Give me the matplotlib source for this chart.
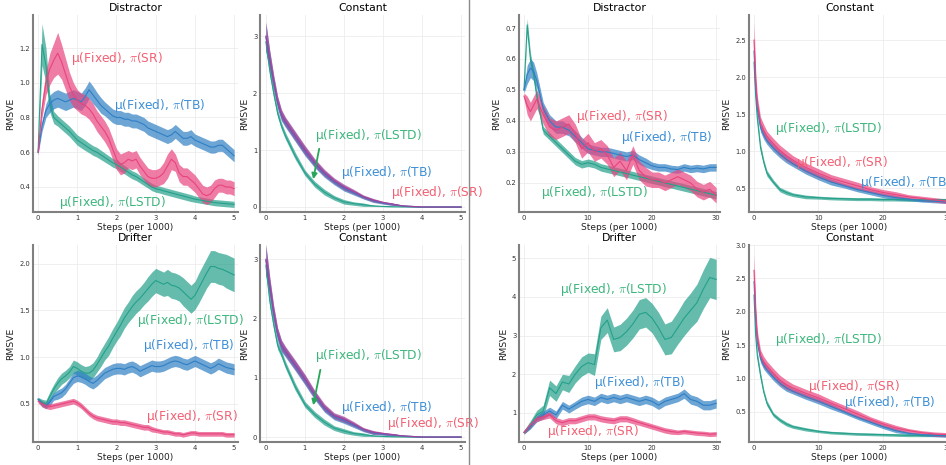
import numpy as np
import matplotlib
matplotlib.use("Agg")
from matplotlib import pyplot as plt

plt.rcParams['mathtext.fontset'] = 'cm'

# ---- colours ----
C_LSTD = '#24a08a'
C_TB = '#2f7fc4'
C_SR = '#e8447e'
C_MIX = '#a8409a'   # SR band sitting on the TB band in the 5k "Constant" runs
T_LSTD = '#3cb67c'
T_TB = '#3d8fd6'
T_SR = '#f25f72'

# ---- panel 1: Distractor, 5k steps ----
x_short = np.round(np.arange(0, 5.01, 0.1), 2)
d1_lstd = [0.60, 1.22, 1.10, 0.88, 0.80, 0.78, 0.76, 0.74, 0.72, 0.695,
           0.67, 0.655, 0.64, 0.625, 0.61, 0.60, 0.585, 0.57, 0.555, 0.54,
           0.53, 0.515, 0.50, 0.485, 0.47, 0.46, 0.445, 0.43, 0.415, 0.40,
           0.39, 0.385, 0.378, 0.372, 0.366, 0.36, 0.354, 0.348, 0.342, 0.336,
           0.33, 0.326, 0.322, 0.318, 0.314, 0.31, 0.308, 0.306, 0.304, 0.302,
           0.30]
d1_lstd_band = [0.01, 0.12, 0.10, 0.05, 0.035, 0.03, 0.03, 0.03, 0.03, 0.03,
                0.03, 0.03, 0.03, 0.028, 0.028, 0.028, 0.027, 0.026, 0.025, 0.025,
                0.025, 0.025, 0.024, 0.024, 0.023, 0.023, 0.022, 0.022, 0.021, 0.021,
                0.02, 0.02, 0.02, 0.02, 0.02, 0.02, 0.02, 0.02, 0.02, 0.02,
                0.018, 0.018, 0.018, 0.018, 0.018, 0.018, 0.018, 0.018, 0.018, 0.018,
                0.018]
d1_sr = [0.60, 0.85, 1.00, 1.08, 1.13, 1.17, 1.12, 1.05, 0.98, 0.93,
         0.90, 0.88, 0.87, 0.85, 0.82, 0.78, 0.75, 0.72, 0.68, 0.62,
         0.56, 0.53, 0.54, 0.56, 0.55, 0.56, 0.52, 0.49, 0.46, 0.45,
         0.45, 0.46, 0.48, 0.52, 0.56, 0.54, 0.48, 0.46, 0.46, 0.44,
         0.42, 0.39, 0.36, 0.35, 0.36, 0.39, 0.41, 0.41, 0.40, 0.40,
         0.39]
d1_sr_band = [0.02, 0.05, 0.07, 0.09, 0.10, 0.12, 0.10, 0.09, 0.08, 0.07,
              0.06, 0.06, 0.06, 0.06, 0.06, 0.06, 0.06, 0.06, 0.06, 0.06,
              0.06, 0.06, 0.06, 0.05, 0.05, 0.05, 0.05, 0.05, 0.05, 0.05,
              0.05, 0.05, 0.06, 0.07, 0.06, 0.05, 0.05, 0.05, 0.05, 0.05,
              0.05, 0.05, 0.05, 0.05, 0.05, 0.05, 0.04, 0.04, 0.04, 0.04,
              0.04]
d1_tb = [0.60, 0.75, 0.84, 0.88, 0.90, 0.91, 0.90, 0.89, 0.90, 0.91,
         0.90, 0.89, 0.92, 0.96, 0.93, 0.90, 0.87, 0.85, 0.83, 0.81,
         0.80, 0.80, 0.79, 0.79, 0.78, 0.78, 0.77, 0.76, 0.74, 0.73,
         0.72, 0.71, 0.70, 0.69, 0.70, 0.72, 0.70, 0.68, 0.68, 0.69,
         0.67, 0.66, 0.65, 0.64, 0.63, 0.63, 0.64, 0.64, 0.62, 0.60,
         0.58]
d1_tb_band = [0.01, 0.03, 0.04, 0.05, 0.05, 0.05, 0.05, 0.05, 0.05, 0.05,
              0.05, 0.05, 0.05, 0.05, 0.05, 0.045, 0.045, 0.04, 0.04, 0.04,
              0.04, 0.04, 0.04, 0.04, 0.04, 0.04, 0.04, 0.04, 0.04, 0.04,
              0.04, 0.04, 0.04, 0.04, 0.04, 0.04, 0.04, 0.04, 0.04, 0.04,
              0.035, 0.035, 0.035, 0.035, 0.035, 0.035, 0.035, 0.035, 0.035, 0.035,
              0.035]

# ---- panel 5: Drifter, 5k steps ----
r1_lstd = [0.55, 0.52, 0.50, 0.58, 0.66, 0.72, 0.77, 0.80, 0.84, 0.90,
           0.88, 0.85, 0.83, 0.83, 0.86, 0.92, 0.99, 1.06, 1.12, 1.20,
           1.27, 1.34, 1.42, 1.48, 1.54, 1.59, 1.63, 1.68, 1.73, 1.78,
           1.82, 1.80, 1.78, 1.80, 1.77, 1.76, 1.74, 1.70, 1.66, 1.62,
           1.66, 1.74, 1.82, 1.90, 1.97, 1.97, 1.95, 1.94, 1.92, 1.90,
           1.88]
r1_lstd_band = [0.02, 0.03, 0.04, 0.05, 0.05, 0.06, 0.06, 0.06, 0.06, 0.07,
                0.07, 0.07, 0.07, 0.08, 0.08, 0.08, 0.09, 0.09, 0.10, 0.10,
                0.10, 0.11, 0.11, 0.11, 0.12, 0.12, 0.12, 0.12, 0.13, 0.13,
                0.13, 0.13, 0.13, 0.14, 0.14, 0.14, 0.14, 0.15, 0.15, 0.15,
                0.15, 0.16, 0.16, 0.16, 0.17, 0.17, 0.17, 0.17, 0.18, 0.18,
                0.18]
r1_tb = [0.55, 0.50, 0.48, 0.52, 0.58, 0.60, 0.62, 0.66, 0.72, 0.78,
         0.80, 0.79, 0.77, 0.74, 0.72, 0.75, 0.79, 0.83, 0.85, 0.87,
         0.88, 0.88, 0.87, 0.89, 0.90, 0.88, 0.85, 0.87, 0.89, 0.91,
         0.90, 0.90, 0.91, 0.93, 0.95, 0.96, 0.95, 0.93, 0.92, 0.94,
         0.96, 0.94, 0.92, 0.90, 0.88, 0.90, 0.93, 0.91, 0.89, 0.88,
         0.87]
r1_tb_band = [0.02, 0.03, 0.03, 0.04, 0.04, 0.05, 0.05, 0.05, 0.05, 0.06,
              0.06, 0.06, 0.06, 0.06, 0.06, 0.06, 0.06, 0.06, 0.06, 0.06,
              0.06, 0.06, 0.06, 0.06, 0.06, 0.06, 0.06, 0.06, 0.06, 0.06,
              0.06, 0.06, 0.06, 0.06, 0.06, 0.06, 0.06, 0.06, 0.06, 0.06,
              0.06, 0.06, 0.06, 0.06, 0.06, 0.06, 0.06, 0.06, 0.06, 0.06,
              0.06]
r1_sr = [0.53, 0.50, 0.48, 0.47, 0.48, 0.49, 0.50, 0.51, 0.52, 0.53,
         0.51, 0.48, 0.44, 0.40, 0.37, 0.35, 0.34, 0.33, 0.32, 0.31,
         0.31, 0.30, 0.30, 0.29, 0.28, 0.27, 0.26, 0.25, 0.25, 0.23,
         0.22, 0.21, 0.20, 0.20, 0.19, 0.18, 0.18, 0.17, 0.18, 0.19,
         0.19, 0.18, 0.18, 0.18, 0.18, 0.18, 0.18, 0.18, 0.17, 0.17,
         0.17]
r1_sr_band = [0.02, 0.03, 0.03, 0.03, 0.03, 0.03, 0.03, 0.03, 0.03, 0.03,
              0.03, 0.03, 0.03, 0.03, 0.03, 0.03, 0.03, 0.03, 0.03, 0.03,
              0.03, 0.03, 0.03, 0.03, 0.03, 0.03, 0.03, 0.03, 0.03, 0.03,
              0.025, 0.025, 0.025, 0.025, 0.025, 0.025, 0.025, 0.025, 0.025, 0.025,
              0.025, 0.025, 0.025, 0.025, 0.025, 0.025, 0.025, 0.025, 0.025, 0.025,
              0.025]

# ---- panels 2 / 6: Constant, 5k steps ----
x_const5 = [0, 0.05, 0.1, 0.2, 0.3, 0.4, 0.5, 0.75, 1.0, 1.25, 1.5, 1.75,
            2.0, 2.25, 2.5, 2.75, 3.0, 3.25, 3.5, 3.75, 4.0, 4.5, 5.0]
c1_sr = [3.00, 2.80, 2.60, 2.20, 1.85, 1.62, 1.50, 1.25, 1.00, 0.78, 0.60, 0.46,
         0.35, 0.27, 0.18, 0.12, 0.08, 0.05, 0.02, 0.01, 0.0, 0.0, 0.0]
c1_tb = [2.98, 2.78, 2.58, 2.18, 1.83, 1.60, 1.48, 1.23, 0.98, 0.76, 0.58, 0.44,
         0.33, 0.25, 0.17, 0.11, 0.07, 0.045, 0.02, 0.01, 0.0, 0.0, 0.0]
c1_lstd = [2.90, 2.65, 2.40, 2.00, 1.65, 1.42, 1.25, 0.90, 0.60, 0.40, 0.26, 0.16,
           0.09, 0.06, 0.04, 0.02, 0.01, 0.005, 0.0, 0.0, 0.0, 0.0, 0.0]
c2_sr = [3.00, 2.78, 2.55, 2.10, 1.75, 1.55, 1.45, 1.22, 0.98, 0.72, 0.50, 0.36,
         0.30, 0.22, 0.13, 0.08, 0.06, 0.04, 0.02, 0.01, 0.0, 0.0, 0.0]
c2_tb = [2.98, 2.76, 2.53, 2.08, 1.73, 1.53, 1.43, 1.20, 0.96, 0.70, 0.48, 0.34,
         0.28, 0.20, 0.12, 0.07, 0.05, 0.035, 0.02, 0.01, 0.0, 0.0, 0.0]
c2_lstd = [2.90, 2.60, 2.30, 1.90, 1.55, 1.40, 1.22, 0.85, 0.55, 0.38, 0.25, 0.15,
           0.10, 0.06, 0.04, 0.02, 0.01, 0.005, 0.0, 0.0, 0.0, 0.0, 0.0]
c5_pol_band = [0.25, 0.20, 0.15, 0.12, 0.10, 0.09, 0.08, 0.08, 0.08, 0.07, 0.06, 0.05,
               0.05, 0.04, 0.03, 0.03, 0.02, 0.02, 0.01, 0.01, 0.005, 0.005, 0.005]
c5_lstd_band = [0.15, 0.12, 0.10, 0.08, 0.07, 0.06, 0.06, 0.06, 0.05, 0.05, 0.05, 0.04,
                0.04, 0.03, 0.03, 0.01, 0.005, 0.003, 0.0, 0.0, 0.0, 0.0, 0.0]

# ---- panel 3: Distractor, 30k steps ----
x_dist30 = [0, 0.5, 1, 1.5, 2, 3, 4, 5, 6, 7, 8, 9, 10, 11, 12, 13, 14, 15, 16,
            17, 18, 19, 20, 21, 22, 23, 24, 25, 26, 27, 28, 29, 30]
d2_lstd = [0.50, 0.71, 0.60, 0.55, 0.48, 0.37, 0.35, 0.33, 0.31, 0.29, 0.27,
           0.26, 0.265, 0.26, 0.25, 0.245, 0.24, 0.235, 0.23, 0.225, 0.22, 0.215,
           0.21, 0.205, 0.20, 0.195, 0.19, 0.185, 0.18, 0.175, 0.17, 0.165, 0.16]
d2_tb = [0.50, 0.55, 0.57, 0.56, 0.53, 0.44, 0.40, 0.38, 0.38, 0.37, 0.35,
         0.33, 0.31, 0.305, 0.30, 0.30, 0.295, 0.29, 0.285, 0.29, 0.275, 0.265,
         0.255, 0.25, 0.25, 0.245, 0.243, 0.25, 0.245, 0.248, 0.245, 0.25, 0.25]
d2_sr = [0.48, 0.45, 0.43, 0.45, 0.47, 0.42, 0.38, 0.37, 0.38, 0.39, 0.36,
         0.31, 0.33, 0.30, 0.31, 0.29, 0.25, 0.27, 0.24, 0.29, 0.24, 0.22,
         0.21, 0.21, 0.20, 0.21, 0.22, 0.21, 0.20, 0.18, 0.17, 0.18, 0.16]
d2_lstd_band = [0.01, 0.02, 0.02, 0.015, 0.015, 0.012, 0.012, 0.012, 0.012, 0.012, 0.012,
                0.012, 0.012, 0.012, 0.012, 0.012, 0.012, 0.012, 0.012, 0.012, 0.012, 0.012,
                0.012, 0.012, 0.012, 0.012, 0.012, 0.012, 0.012, 0.012, 0.012, 0.012, 0.012]
d2_tb_band = [0.01, 0.03, 0.03, 0.03, 0.025, 0.02, 0.02, 0.02, 0.02, 0.018, 0.018,
              0.018, 0.015, 0.015, 0.015, 0.015, 0.015, 0.015, 0.015, 0.015, 0.015, 0.015,
              0.012, 0.012, 0.012, 0.012, 0.012, 0.012, 0.012, 0.012, 0.012, 0.012, 0.012]
d2_sr_band = [0.01, 0.03, 0.03, 0.03, 0.03, 0.03, 0.03, 0.03, 0.03, 0.03, 0.03,
              0.03, 0.03, 0.03, 0.03, 0.03, 0.03, 0.03, 0.03, 0.03, 0.03, 0.03,
              0.025, 0.025, 0.025, 0.025, 0.025, 0.025, 0.025, 0.025, 0.025, 0.025, 0.025]

# ---- panel 7: Drifter, 30k steps ----
x_drift30 = [0, 1, 2, 3, 4, 5, 6, 7, 8, 9, 10, 11, 12, 13, 14, 15, 16, 17, 18,
             19, 20, 21, 22, 23, 24, 25, 26, 27, 28, 29, 30]
r2_lstd = [0.50, 0.70, 0.95, 1.05, 1.65, 1.50, 1.80, 1.75, 2.00, 2.20, 2.30,
           2.25, 3.20, 3.40, 2.90, 2.95, 3.10, 3.30, 3.55, 3.60, 3.45, 3.20,
           2.90, 2.95, 3.20, 3.45, 3.65, 3.85, 4.20, 4.50, 4.45]
r2_lstd_band = [0.05, 0.10, 0.12, 0.15, 0.20, 0.20, 0.20, 0.22, 0.22, 0.25, 0.25,
                0.28, 0.30, 0.32, 0.32, 0.34, 0.35, 0.36, 0.38, 0.38, 0.38, 0.40,
                0.40, 0.42, 0.42, 0.45, 0.45, 0.48, 0.50, 0.52, 0.52]
r2_tb = [0.50, 0.65, 0.85, 0.95, 1.05, 0.95, 1.20, 1.10, 1.20, 1.30, 1.35,
         1.30, 1.40, 1.35, 1.40, 1.35, 1.40, 1.35, 1.30, 1.35, 1.30, 1.20,
         1.30, 1.35, 1.40, 1.50, 1.35, 1.30, 1.20, 1.20, 1.25]
r2_tb_band = [0.04, 0.06, 0.08, 0.10, 0.10, 0.10, 0.10, 0.10, 0.10, 0.11, 0.11,
              0.11, 0.11, 0.11, 0.11, 0.11, 0.11, 0.11, 0.11, 0.11, 0.11, 0.11,
              0.11, 0.11, 0.11, 0.12, 0.12, 0.12, 0.12, 0.12, 0.12]
r2_sr = [0.50, 0.70, 0.85, 0.90, 0.95, 0.80, 0.75, 0.80, 0.80, 0.85, 0.90,
         0.90, 0.85, 0.82, 0.80, 0.85, 0.85, 0.80, 0.75, 0.70, 0.65, 0.60,
         0.55, 0.52, 0.50, 0.52, 0.50, 0.48, 0.47, 0.45, 0.46]
r2_sr_band = [0.04, 0.06, 0.07, 0.07, 0.08, 0.08, 0.08, 0.08, 0.08, 0.08, 0.08,
              0.08, 0.08, 0.08, 0.08, 0.08, 0.08, 0.08, 0.07, 0.07, 0.07, 0.07,
              0.07, 0.07, 0.06, 0.06, 0.06, 0.06, 0.06, 0.06, 0.06]

# ---- panels 4 / 8: Constant, 30k steps ----
x_const30 = [0, 0.25, 0.5, 1, 1.5, 2, 3, 4, 5, 6, 8, 10, 12, 14, 16, 18, 20,
             22, 24, 26, 28, 30]
c3_sr = [2.50, 1.95, 1.65, 1.38, 1.28, 1.20, 1.10, 1.01, 0.94, 0.88, 0.78,
         0.70, 0.63, 0.58, 0.53, 0.48, 0.44, 0.41, 0.38, 0.36, 0.34, 0.32]
c3_tb = [2.35, 1.85, 1.58, 1.32, 1.22, 1.14, 1.04, 0.96, 0.89, 0.83, 0.73,
         0.65, 0.58, 0.53, 0.48, 0.44, 0.40, 0.37, 0.35, 0.33, 0.32, 0.31]
c3_lstd = [2.20, 1.75, 1.45, 1.05, 0.85, 0.70, 0.58, 0.48, 0.44, 0.41, 0.38,
           0.37, 0.36, 0.355, 0.35, 0.35, 0.345, 0.345, 0.34, 0.34, 0.34, 0.34]
c4_sr = [2.62, 2.00, 1.62, 1.35, 1.25, 1.19, 1.08, 0.98, 0.91, 0.86, 0.78,
         0.71, 0.63, 0.55, 0.47, 0.39, 0.32, 0.26, 0.22, 0.19, 0.17, 0.16]
c4_tb = [2.45, 1.90, 1.55, 1.30, 1.20, 1.13, 1.02, 0.93, 0.86, 0.81, 0.73,
         0.66, 0.58, 0.50, 0.42, 0.35, 0.28, 0.22, 0.18, 0.16, 0.15, 0.14]
c4_lstd = [2.25, 1.65, 1.35, 1.05, 0.80, 0.63, 0.46, 0.38, 0.32, 0.28, 0.24,
           0.21, 0.19, 0.18, 0.17, 0.165, 0.16, 0.155, 0.15, 0.15, 0.15, 0.15]
c30_sr_band = [0.25, 0.15, 0.10, 0.08, 0.08, 0.07, 0.07, 0.07, 0.07, 0.06, 0.06,
               0.06, 0.05, 0.05, 0.05, 0.04, 0.04, 0.04, 0.03, 0.03, 0.03, 0.03]
c30_tb_band = [0.20, 0.10, 0.08, 0.06, 0.06, 0.05, 0.05, 0.05, 0.05, 0.04, 0.04,
               0.04, 0.04, 0.03, 0.03, 0.03, 0.03, 0.03, 0.02, 0.02, 0.02, 0.02]
c30_lstd_band = [0.15, 0.08, 0.06, 0.05, 0.04, 0.04, 0.03, 0.03, 0.03, 0.025, 0.025,
                 0.02, 0.02, 0.02, 0.02, 0.02, 0.02, 0.02, 0.02, 0.02, 0.02, 0.02]

LBL_SR = r'μ(Fixed), $\pi$(SR)'
LBL_TB = r'μ(Fixed), $\pi$(TB)'
LBL_LSTD = r'μ(Fixed), $\pi$(LSTD)'

W, H = 946, 465
fig = plt.figure(figsize=(W / 100, H / 100), dpi=100)


def make_ax(left, top, width, height=197):
    return fig.add_axes([left / W, 1 - (top + height) / H, width / W, height / H])


def panel(ax, x, series, title, xlim, ylim, xticks, yticks):
    x = np.asarray(x, dtype=float)
    for mean, band, color in series:
        mean = np.asarray(mean)
        band = np.asarray(band)
        ax.fill_between(x, mean - band, mean + band, color=color, alpha=0.7, lw=0)
        ax.plot(x, mean, color=color, lw=0.8)
    ax.set_xlim(*xlim)
    ax.set_ylim(*ylim)
    ax.set_xticks(xticks)
    ax.set_yticks(yticks)
    ax.grid(True, color='#ececec', lw=0.6)
    ax.set_axisbelow(True)
    for s in ['top', 'right']:
        ax.spines[s].set_visible(False)
    for s in ['left', 'bottom']:
        ax.spines[s].set_color('#808080')
        ax.spines[s].set_linewidth(1.5)
    ax.tick_params(length=0, pad=2, labelsize=4.9, colors='#333333')
    ax.set_title(title, fontsize=7.8, pad=3)
    ax.set_xlabel('Steps (per 1000)', fontsize=6.5, labelpad=1.5, color='#222222')
    ax.set_ylabel('RMSVE', fontsize=6.7, labelpad=3, color='#222222')


def label(ax, x, y, txt, color, ha='center'):
    ax.text(x, y, txt, color=color, fontsize=8.8, ha=ha, va='center', clip_on=False)


# top row
ax1 = make_ax(33, 15, 205)
panel(ax1, x_short, [(d1_lstd, d1_lstd_band, C_LSTD), (d1_tb, d1_tb_band, C_TB),
                     (d1_sr, d1_sr_band, C_SR)],
      'Distractor', (-0.13, 5.1), (0.256, 1.39), [0, 1, 2, 3, 4, 5], [0.4, 0.6, 0.8, 1.0, 1.2])
label(ax1, 2.0, 1.14, LBL_SR, T_SR)
label(ax1, 3.1, 0.87, LBL_TB, T_TB)
label(ax1, 1.89, 0.31, LBL_LSTD, T_LSTD)

ax2 = make_ax(260, 15, 205)
panel(ax2, x_const5, [(c1_lstd, c5_lstd_band, C_LSTD), (c1_tb, c5_pol_band, C_TB),
                      (c1_sr, c5_pol_band, C_MIX)],
      'Constant', (-0.15, 5.1), (-0.088, 3.37), [0, 1, 2, 3, 4, 5], [0, 1, 2, 3])
label(ax2, 2.62, 1.26, LBL_LSTD, T_LSTD)
label(ax2, 3.1, 0.6, LBL_TB, T_TB)
label(ax2, 3.2, 0.25, LBL_SR, T_SR, ha='left')
ax2.annotate('', xy=(1.2, 0.44), xytext=(1.38, 1.07),
             arrowprops=dict(arrowstyle='-|>', color='#27a65a', lw=1.3, mutation_scale=8))

ax3 = make_ax(519, 15, 201)
panel(ax3, x_dist30, [(d2_lstd, d2_lstd_band, C_LSTD), (d2_tb, d2_tb_band, C_TB),
                      (d2_sr, d2_sr_band, C_SR)],
      'Distractor', (-0.78, 30.6), (0.106, 0.742), [0, 10, 20, 30],
      [0.2, 0.3, 0.4, 0.5, 0.6, 0.7])
label(ax3, 15.3, 0.413, LBL_SR, T_SR)
label(ax3, 22.3, 0.348, LBL_TB, T_TB)
label(ax3, 11.0, 0.168, LBL_LSTD, T_LSTD)

ax4 = make_ax(749, 15, 201)
panel(ax4, x_const30, [(c3_lstd, c30_lstd_band, C_LSTD), (c3_tb, c30_tb_band, C_TB),
                       (c3_sr, c30_sr_band, C_SR)],
      'Constant', (-0.78, 30.4), (0.176, 2.84), [0, 10, 20, 30],
      [0.5, 1.0, 1.5, 2.0, 2.5])
label(ax4, 11.5, 1.3, LBL_LSTD, T_LSTD)
label(ax4, 13.6, 0.85, LBL_SR, T_SR)
label(ax4, 16.4, 0.57, LBL_TB, T_TB, ha='left')

# bottom row
ax5 = make_ax(33, 245, 205)
panel(ax5, x_short, [(r1_lstd, r1_lstd_band, C_LSTD), (r1_tb, r1_tb_band, C_TB),
                     (r1_sr, r1_sr_band, C_SR)],
      'Drifter', (-0.13, 5.1), (0.093, 2.2), [0, 1, 2, 3, 4, 5], [0.5, 1.0, 1.5, 2.0])
label(ax5, 3.9, 1.39, LBL_LSTD, T_LSTD)
label(ax5, 3.83, 1.12, LBL_TB, T_TB)
label(ax5, 3.93, 0.37, LBL_SR, T_SR)

ax6 = make_ax(260, 245, 205)
panel(ax6, x_const5, [(c2_lstd, c5_lstd_band, C_LSTD), (c2_tb, c5_pol_band, C_TB),
                      (c2_sr, c5_pol_band, C_MIX)],
      'Constant', (-0.15, 5.1), (-0.084, 3.24), [0, 1, 2, 3, 4, 5], [0, 1, 2, 3])
label(ax6, 2.62, 1.37, LBL_LSTD, T_LSTD)
label(ax6, 3.1, 0.50, LBL_TB, T_TB)
label(ax6, 3.1, 0.22, LBL_SR, T_SR, ha='left')
ax6.annotate('', xy=(1.2, 0.49), xytext=(1.41, 1.18),
             arrowprops=dict(arrowstyle='-|>', color='#27a65a', lw=1.3, mutation_scale=8))

ax7 = make_ax(519, 245, 201)
panel(ax7, x_drift30, [(r2_lstd, r2_lstd_band, C_LSTD), (r2_tb, r2_tb_band, C_TB),
                       (r2_sr, r2_sr_band, C_SR)],
      'Drifter', (-0.78, 30.6), (0.25, 5.34), [0, 10, 20, 30], [1, 2, 3, 4, 5])
label(ax7, 14.0, 4.2, LBL_LSTD, T_LSTD)
label(ax7, 18.1, 1.8, LBL_TB, T_TB)
label(ax7, 10.7, 0.51, LBL_SR, T_SR)

ax8 = make_ax(749, 245, 201)
panel(ax8, x_const30, [(c4_lstd, c30_lstd_band, C_LSTD), (c4_tb, c30_tb_band, C_TB),
                       (c4_sr, c30_sr_band, C_SR)],
      'Constant', (-0.78, 30.4), (0.05, 3.0), [0, 10, 20, 30],
      [0.5, 1.0, 1.5, 2.0, 2.5, 3.0])
label(ax8, 11.5, 1.58, LBL_LSTD, T_LSTD)
label(ax8, 15.5, 0.88, LBL_SR, T_SR)
label(ax8, 21.1, 0.64, LBL_TB, T_TB)

# separator between the two figure halves
fig.add_artist(plt.Line2D([469 / W, 469 / W], [0, 1], color='#8a8a8a', lw=1.0))

fig.savefig('out.png', dpi=100)
